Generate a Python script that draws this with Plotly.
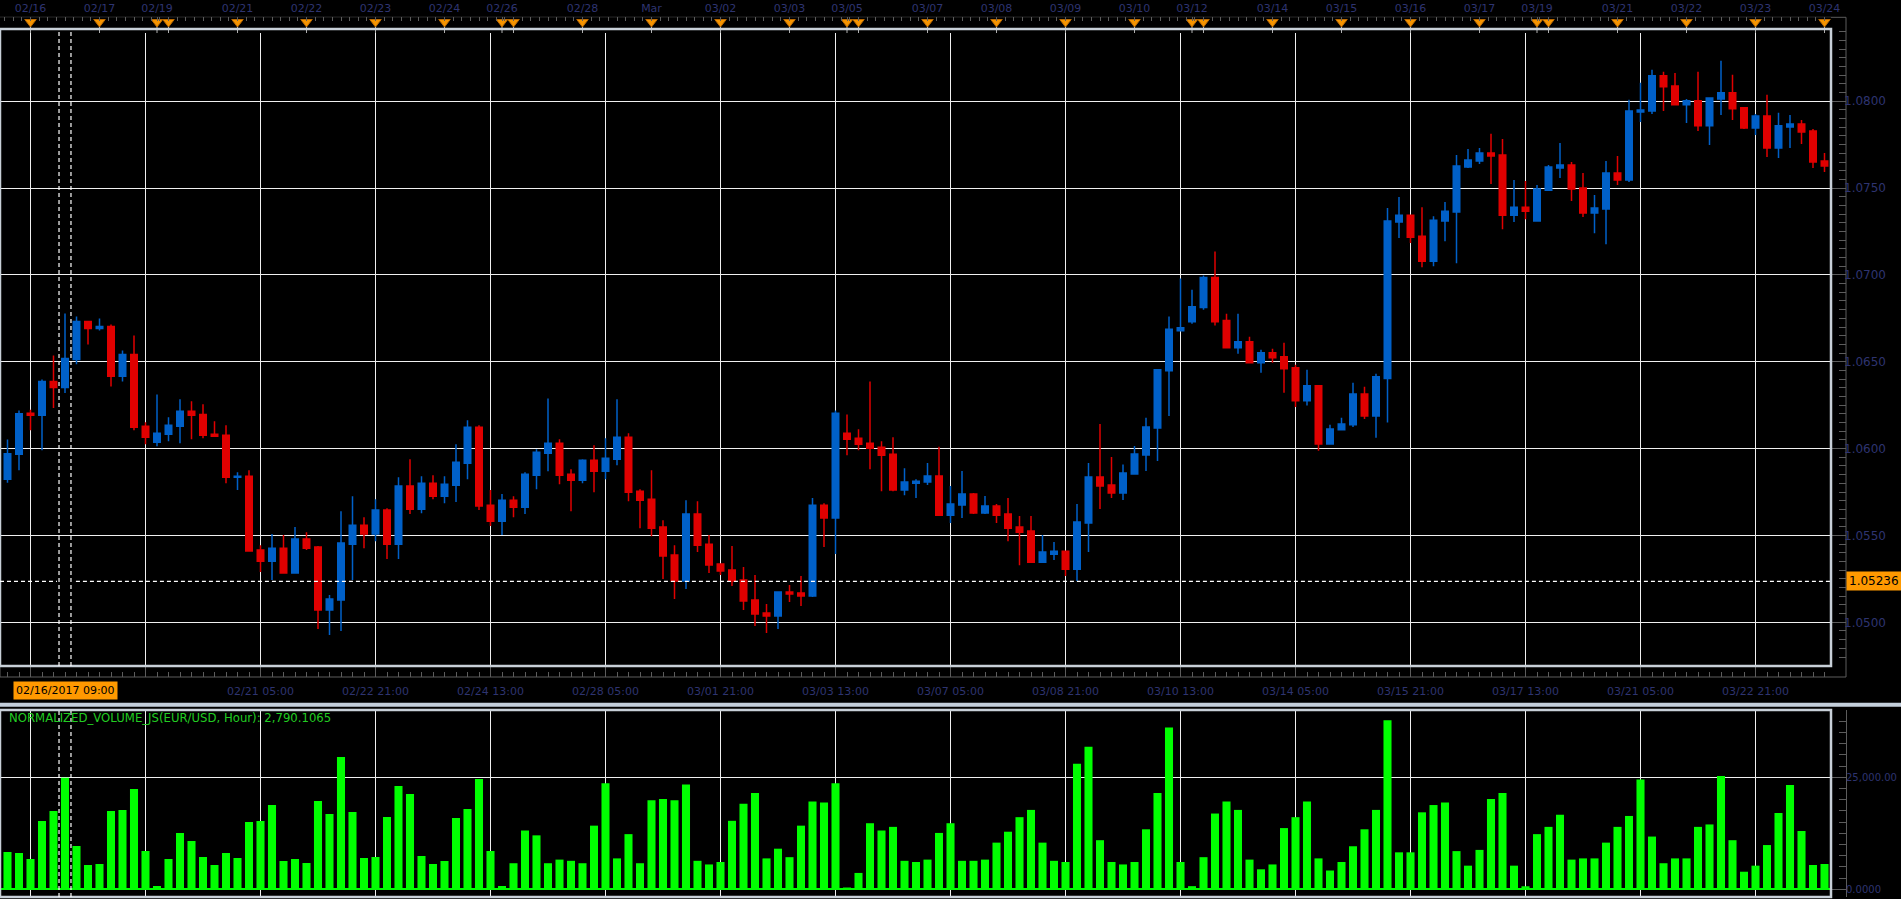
import plotly.graph_objects as go

W, H = 1901, 899

# ---------------- data ----------------
candle_idx = list(range(159))

open_ = [1.05824, 1.05967, 1.06203, 1.06192, 1.06387, 1.06352, 1.06513, 1.06732, 1.06692, 1.06703,
         1.06416, 1.06542, 1.06128, 1.06036, 1.06082, 1.06128, 1.06215, 1.06197, 1.06082, 1.06077,
         1.05835, 1.05841, 1.05416, 1.05352, 1.05427, 1.05284, 1.05479, 1.05433, 1.05071, 1.05128,
         1.05450, 1.05559, 1.05508, 1.05646, 1.05450, 1.05784, 1.05651, 1.05801, 1.05726, 1.05789,
         1.05916, 1.06123, 1.05674, 1.05582, 1.05703, 1.05663, 1.05847, 1.05973, 1.06031, 1.05852,
         1.05818, 1.05933, 1.05870, 1.05939, 1.06065, 1.05755, 1.05709, 1.05548, 1.05387, 1.05238,
         1.05623, 1.05450, 1.05335, 1.05301, 1.05243, 1.05128, 1.05054, 1.05036, 1.05174, 1.05169,
         1.05151, 1.05674, 1.05600, 1.06088, 1.06059, 1.06031, 1.06008, 1.05967, 1.05761, 1.05801,
         1.05808, 1.05842, 1.05617, 1.05675, 1.05738, 1.05629, 1.05669, 1.05623, 1.05548, 1.05525,
         1.05346, 1.05392, 1.05409, 1.05306, 1.05571, 1.05837, 1.05790, 1.05744, 1.05854, 1.05963,
         1.06119, 1.06448, 1.06679, 1.06731, 1.06812, 1.06985, 1.06737, 1.06581, 1.06615, 1.06494,
         1.06552, 1.06529, 1.06465, 1.06275, 1.06362, 1.06027, 1.06108, 1.06137, 1.06315, 1.06188,
         1.06404, 1.07304, 1.07344, 1.07223, 1.07079, 1.07310, 1.07362, 1.07621, 1.07656, 1.07702,
         1.07690, 1.07344, 1.07390, 1.07310, 1.07488, 1.07615, 1.07633, 1.07500, 1.07356, 1.07379,
         1.07587, 1.07546, 1.07938, 1.07944, 1.08146, 1.08088, 1.07979, 1.08002, 1.07858, 1.08013,
         1.08048, 1.07962, 1.07846, 1.07915, 1.07731, 1.07852, 1.07869, 1.07829, 1.07656]

high = [1.06052, 1.06220, 1.06224, 1.06398, 1.06536, 1.06778, 1.06761, 1.06732, 1.06749, 1.06715,
        1.06565, 1.06651, 1.06151, 1.06312, 1.06180, 1.06284, 1.06272, 1.06255, 1.06157, 1.06134,
        1.05864, 1.05875, 1.05444, 1.05508, 1.05502, 1.05548, 1.05519, 1.05439, 1.05157, 1.05640,
        1.05726, 1.05605, 1.05709, 1.05657, 1.05835, 1.05939, 1.05841, 1.05847, 1.05841, 1.06025,
        1.06163, 1.06134, 1.05761, 1.05738, 1.05726, 1.05864, 1.05996, 1.06289, 1.06054, 1.05881,
        1.05939, 1.06019, 1.06059, 1.06284, 1.06088, 1.05766, 1.05875, 1.05588, 1.05444, 1.05703,
        1.05697, 1.05502, 1.05335, 1.05439, 1.05318, 1.05272, 1.05105, 1.05174, 1.05215, 1.05266,
        1.05715, 1.05686, 1.06220, 1.06197, 1.06111, 1.06387, 1.06042, 1.06065, 1.05887, 1.05824,
        1.05917, 1.06010, 1.05785, 1.05871, 1.05744, 1.05727, 1.05681, 1.05715, 1.05612, 1.05612,
        1.05502, 1.05462, 1.05409, 1.05681, 1.05917, 1.06142, 1.05952, 1.05908, 1.06015, 1.06177,
        1.06454, 1.06760, 1.06979, 1.06915, 1.06996, 1.07135, 1.06777, 1.06777, 1.06644, 1.06569,
        1.06575, 1.06610, 1.06483, 1.06454, 1.06362, 1.06137, 1.06177, 1.06379, 1.06356, 1.06431,
        1.07385, 1.07448, 1.07344, 1.07390, 1.07338, 1.07419, 1.07690, 1.07725, 1.07731, 1.07812,
        1.07783, 1.07546, 1.07540, 1.07517, 1.07633, 1.07760, 1.07650, 1.07587, 1.07460, 1.07656,
        1.07685, 1.08008, 1.08106, 1.08181, 1.08169, 1.08163, 1.08013, 1.08169, 1.08019, 1.08233,
        1.08152, 1.07962, 1.07927, 1.08037, 1.07933, 1.07921, 1.07892, 1.07840, 1.07702]

low = [1.05803, 1.05875, 1.06105, 1.05990, 1.06234, 1.06320, 1.06485, 1.06600, 1.06680, 1.06358,
       1.06387, 1.06105, 1.06025, 1.06013, 1.06042, 1.06031, 1.06054, 1.06059, 1.06071, 1.05801,
       1.05761, 1.05410, 1.05289, 1.05243, 1.05284, 1.05284, 1.05416, 1.04962, 1.04927, 1.04950,
       1.05243, 1.05427, 1.05467, 1.05364, 1.05364, 1.05623, 1.05628, 1.05709, 1.05686, 1.05692,
       1.05824, 1.05646, 1.05554, 1.05502, 1.05605, 1.05623, 1.05766, 1.05870, 1.05795, 1.05640,
       1.05801, 1.05749, 1.05824, 1.05904, 1.05697, 1.05542, 1.05496, 1.05249, 1.05134, 1.05192,
       1.05404, 1.05284, 1.05272, 1.05209, 1.05071, 1.04979, 1.04939, 1.04962, 1.05117, 1.05094,
       1.05146, 1.05433, 1.05393, 1.05962, 1.05990, 1.05881, 1.05755, 1.05755, 1.05732, 1.05715,
       1.05790, 1.05617, 1.05571, 1.05600, 1.05623, 1.05623, 1.05571, 1.05467, 1.05329, 1.05346,
       1.05346, 1.05358, 1.05267, 1.05238, 1.05404, 1.05652, 1.05715, 1.05704, 1.05854, 1.05871,
       1.05929, 1.06188, 1.06679, 1.06719, 1.06800, 1.06708, 1.06581, 1.06546, 1.06494, 1.06437,
       1.06494, 1.06321, 1.06240, 1.06248, 1.05987, 1.06027, 1.06108, 1.06125, 1.06171, 1.06062,
       1.06150, 1.07212, 1.07183, 1.07044, 1.07050, 1.07194, 1.07067, 1.07615, 1.07638, 1.07523,
       1.07263, 1.07304, 1.07321, 1.07310, 1.07488, 1.07558, 1.07425, 1.07333, 1.07240, 1.07177,
       1.07517, 1.07535, 1.07881, 1.07927, 1.07944, 1.07979, 1.07875, 1.07829, 1.07748, 1.07921,
       1.07892, 1.07840, 1.07806, 1.07679, 1.07673, 1.07731, 1.07754, 1.07615, 1.07592]

close = [1.05971, 1.06201, 1.06192, 1.06387, 1.06352, 1.06519, 1.06732, 1.06692, 1.06703, 1.06416,
         1.06542, 1.06123, 1.06065, 1.06088, 1.06134, 1.06215, 1.06192, 1.06077, 1.06071, 1.05835,
         1.05841, 1.05410, 1.05352, 1.05427, 1.05284, 1.05479, 1.05427, 1.05071, 1.05134, 1.05456,
         1.05559, 1.05508, 1.05646, 1.05450, 1.05784, 1.05651, 1.05801, 1.05726, 1.05795, 1.05921,
         1.06123, 1.05669, 1.05582, 1.05703, 1.05663, 1.05852, 1.05979, 1.06031, 1.05847, 1.05818,
         1.05933, 1.05870, 1.05944, 1.06065, 1.05749, 1.05703, 1.05542, 1.05381, 1.05238, 1.05623,
         1.05444, 1.05330, 1.05295, 1.05238, 1.05123, 1.05048, 1.05036, 1.05174, 1.05163, 1.05151,
         1.05674, 1.05600, 1.06203, 1.06054, 1.06025, 1.06002, 1.05962, 1.05761, 1.05807, 1.05812,
         1.05842, 1.05617, 1.05681, 1.05738, 1.05629, 1.05669, 1.05617, 1.05542, 1.05519, 1.05346,
         1.05404, 1.05409, 1.05306, 1.05577, 1.05837, 1.05785, 1.05744, 1.05860, 1.05969, 1.06125,
         1.06454, 1.06687, 1.06696, 1.06817, 1.06985, 1.06731, 1.06581, 1.06615, 1.06494, 1.06552,
         1.06523, 1.06460, 1.06275, 1.06362, 1.06027, 1.06113, 1.06142, 1.06315, 1.06188, 1.06413,
         1.07310, 1.07344, 1.07217, 1.07079, 1.07315, 1.07367, 1.07627, 1.07662, 1.07702, 1.07685,
         1.07344, 1.07390, 1.07367, 1.07494, 1.07621, 1.07633, 1.07494, 1.07356, 1.07385, 1.07587,
         1.07546, 1.07944, 1.07950, 1.08146, 1.08083, 1.07979, 1.08002, 1.07858, 1.08019, 1.08048,
         1.07956, 1.07846, 1.07915, 1.07731, 1.07858, 1.07869, 1.07823, 1.07650, 1.07627]

volume = [8333, 8110, 6770, 15252, 17484, 24924, 9672, 5431, 5654, 17484,
          17707, 22394, 8556, 744, 6770, 12574, 10788, 7217, 5431, 8110,
          6994, 15029, 15252, 18823, 6324, 6770, 5878, 19716, 16814, 29537,
          17261, 6994, 7217, 16145, 23064, 21278, 7440, 5654, 6324, 15922,
          17930, 24626, 8556, 744, 5818, 13124, 12042, 5818, 6630, 6359,
          5818, 14207, 23678, 6900, 12312, 5818, 19889, 20160, 19889, 23407,
          6359, 5547, 6089, 15289, 19077, 21513, 6900, 9065, 7171, 14207,
          19619, 19348, 23678, 400, 3653, 14748, 13124, 13936, 6359, 6089,
          6630, 12583, 14748, 6359, 6359, 6630, 10418, 12854, 16101, 17724,
          10418, 6359, 6089, 28007, 31796, 10959, 6089, 5547, 6089, 13395,
          21513, 36125, 6089, 700, 7171, 16912, 19619, 17724, 6630, 4465,
          5547, 13665, 16101, 19619, 6900, 4194, 6089, 9606, 13395, 17724,
          37749, 8253, 8253, 17183, 18807, 19348, 8524, 5277, 8794, 20160,
          21513, 5277, 677, 12312, 13936, 16642, 6630, 6900, 6900, 10418,
          13936, 16371, 24489, 11771, 5818, 6900, 6900, 13936, 14477, 25301,
          10959, 3924, 5277, 9877, 17038, 23287, 13020, 5431, 5654]

grid_ticks = [2, 12, 22, 32, 42, 52, 62, 72, 82, 92, 102, 112, 122, 132, 142, 152]
bottom_labels = ["02/15 21:00", "", "02/21 05:00", "02/22 21:00", "02/24 13:00", "02/28 05:00",
                 "03/01 21:00", "03/03 13:00", "03/07 05:00", "03/08 21:00", "03/10 13:00",
                 "03/14 05:00", "03/15 21:00", "03/17 13:00", "03/21 05:00", "03/22 21:00"]

top_ticks = [2, 8, 13, 20, 26, 32, 38, 43, 50, 56, 62, 68, 73, 80, 86, 92, 98, 103, 110,
             116, 122, 128, 133, 140, 146, 152, 158]
top_labels = ["02/16", "02/17", "02/19", "02/21", "02/22", "02/23", "02/24", "02/26", "02/28",
              "Mar", "03/02", "03/03", "03/05", "03/07", "03/08", "03/09", "03/10", "03/12",
              "03/14", "03/15", "03/16", "03/17", "03/19", "03/21", "03/22", "03/23", "03/24"]
event_marks = [2, 8, 13, 14, 20, 26, 32, 38, 43, 44, 50, 56, 62, 68, 73, 74, 80, 86, 92, 98,
               103, 104, 110, 116, 122, 128, 133, 134, 140, 146, 152, 158]

price_ticks = [1.05, 1.055, 1.06, 1.065, 1.07, 1.075, 1.08]
vol_ticks = [0, 25000]
vol_tick_labels = ["0.0000", "25,000.00"]

cursor_index = 5
cursor_price = 1.05236
cursor_price_label = "1.05236"
cursor_time_label = "02/16/2017 09:00"
indicator_label = "NORMALIZED_VOLUME_JS(EUR/USD, Hour): 2,790.1065"

# ---------------- styling helpers ----------------
def fx(px):
    return px / W

def fy(py):
    return 1 - py / H

UP = "#0060c8"
DOWN = "#e00000"
GRID = "#f0f0f0"
AXC = "#5c5c5c"
LBL = "#2e3470"
FRAME = "#c8d0d8"
ORANGE = "#ff9900"
FONT = "DejaVu Sans"

XR = [-0.652, 158.565]
XDOM = [0, fx(1831)]

fig = go.Figure()

fig.add_trace(go.Candlestick(
    x=candle_idx, open=open_, high=high, low=low, close=close,
    increasing=dict(line=dict(color=UP, width=1.5), fillcolor=UP),
    decreasing=dict(line=dict(color=DOWN, width=1.5), fillcolor=DOWN),
    whiskerwidth=0, hoverinfo="skip", xaxis="x", yaxis="y"))

fig.add_trace(go.Bar(
    x=candle_idx, y=volume, width=0.7, marker=dict(color="#00ff00", line=dict(width=0)),
    hoverinfo="skip", xaxis="x4", yaxis="y2"))

# top event markers (stems + triangles)
stem_x, stem_y = [], []
for m in event_marks:
    stem_x += [m, m, None]
    stem_y += [0.0, 0.7, None]
fig.add_trace(go.Scatter(x=stem_x, y=stem_y, mode="lines",
                         line=dict(color="#b0b0b0", width=1),
                         hoverinfo="skip", xaxis="x2", yaxis="y3"))
fig.add_trace(go.Scatter(x=event_marks, y=[0.7] * len(event_marks), mode="markers",
                         marker=dict(symbol="triangle-down", size=10, color="#f59400",
                                     line=dict(color="#b86800", width=1)),
                         hoverinfo="skip", xaxis="x2", yaxis="y3"))

# carrier for the bottom time axis strip
fig.add_trace(go.Scatter(x=[grid_ticks[0]], y=[0.5], mode="markers",
                         marker=dict(opacity=0), hoverinfo="skip", xaxis="x3", yaxis="y4"))

tickfont = dict(family=FONT, size=11, color=LBL)
rfont = dict(family=FONT, size=12, color=LBL)
vfont = dict(family=FONT, size=10, color=LBL)

layout = dict(
    width=W, height=H, margin=dict(l=0, r=0, t=0, b=0, autoexpand=False), autosize=False,
    paper_bgcolor="black", plot_bgcolor="black",
    showlegend=False, hovermode=False,
    boxgap=0.435, boxgroupgap=0,
    font=dict(family=FONT, size=11, color=LBL),
    xaxis=dict(domain=XDOM, range=XR, anchor="y", tickmode="array", tickvals=grid_ticks,
               showticklabels=False, ticks="", showgrid=True, gridcolor=GRID, gridwidth=1,
               zeroline=False, showline=False, rangeslider=dict(visible=False),
               automargin=False),
    yaxis=dict(domain=[fy(666), fy(29)], range=[1.047484, 1.084157], anchor="free",
               position=fx(1846), side="right", tickmode="array", tickvals=price_ticks,
               tickformat=".4f", ticks="inside", ticklen=15, tickwidth=1, tickcolor=AXC,
               showgrid=True, gridcolor=GRID, gridwidth=1, zeroline=False, showline=False,
               tickfont=rfont, automargin=False, ticklabelstandoff=-3,
               minor=dict(tickmode="linear", tick0=1.05, dtick=0.0005, ticks="inside",
                          ticklen=7, tickcolor=AXC, showgrid=False)),
    xaxis2=dict(domain=XDOM, range=XR, anchor="y3", side="top", tickmode="array",
                tickvals=top_ticks, ticktext=top_labels, ticks="inside", ticklen=4,
                tickcolor=AXC, showgrid=False, zeroline=False, showline=False,
                tickfont=tickfont, automargin=False, ticklabelstandoff=2,
                minor=dict(tickmode="linear", tick0=2, dtick=0.75, ticks="inside",
                           ticklen=4, tickcolor=AXC, showgrid=False)),
    yaxis3=dict(domain=[fy(33), fy(17.3)], range=[0, 1], anchor="x2", visible=False,
                automargin=False),
    xaxis3=dict(domain=XDOM, range=XR, anchor="y4", side="bottom", tickmode="array",
                tickvals=grid_ticks, ticktext=bottom_labels, ticks="inside", ticklen=11,
                tickcolor=AXC, showgrid=False, zeroline=False, showline=False,
                tickfont=tickfont, ticklabelstandoff=6, automargin=False,
                minor=dict(tickmode="linear", tick0=2, dtick=1, ticks="inside",
                           ticklen=5, tickcolor=AXC, showgrid=False)),
    yaxis4=dict(domain=[fy(677), fy(666)], range=[0, 1], anchor="x3", visible=False,
                automargin=False),
    xaxis4=dict(domain=XDOM, range=XR, anchor="y2", tickmode="array", tickvals=grid_ticks,
                showticklabels=False, ticks="", showgrid=True, gridcolor=GRID, gridwidth=1,
                zeroline=False, showline=False, automargin=False),
    yaxis2=dict(domain=[fy(897), fy(710)], range=[-1719, 40022], anchor="free",
                position=fx(1846), side="right", tickmode="array", tickvals=vol_ticks,
                ticktext=vol_tick_labels, ticks="inside", ticklen=15, tickcolor=AXC,
                showgrid=True, gridcolor=GRID, gridwidth=1,
                zeroline=True, zerolinecolor="#00ff00", zerolinewidth=2,
                showline=True, linecolor=AXC, linewidth=1, tickfont=vfont,
                automargin=False, ticklabelstandoff=-3,
                minor=dict(tickmode="linear", tick0=0, dtick=2500, ticks="inside",
                           ticklen=7, tickcolor=AXC, showgrid=False)),
)
fig.update_layout(**layout)

shapes = []
# axis box around the price pane (top strip line, right axis line, bottom strip line)
shapes.append(dict(type="rect", xref="paper", yref="paper", x0=0, x1=fx(1846),
                   y0=fy(677), y1=fy(17.3), line=dict(color=AXC, width=1), layer="below"))
# separator band
shapes.append(dict(type="rect", xref="paper", yref="paper", x0=0, x1=1,
                   y0=fy(706.7), y1=fy(702.7), fillcolor="#c4cfdb", line=dict(width=0)))
# frames
shapes.append(dict(type="rect", xref="paper", yref="paper", x0=0, x1=fx(1831),
                   y0=fy(666), y1=fy(29), line=dict(color=FRAME, width=2.5), layer="above"))
shapes.append(dict(type="rect", xref="paper", yref="paper", x0=0, x1=fx(1831),
                   y0=fy(897), y1=fy(710), line=dict(color=FRAME, width=2.5), layer="above"))
# crosshair cursor
dash = dict(color="white", width=1.2, dash="4px,3px")
for dx in (-0.52, 0.52):
    shapes.append(dict(type="line", xref="x", yref="y domain", x0=cursor_index + dx,
                       x1=cursor_index + dx, y0=0, y1=1, line=dash))
    shapes.append(dict(type="line", xref="x4", yref="y2 domain", x0=cursor_index + dx,
                       x1=cursor_index + dx, y0=0, y1=1, line=dash))
shapes.append(dict(type="line", xref="x", yref="y", x0=XR[0], x1=cursor_index - 0.7,
                   y0=cursor_price, y1=cursor_price, line=dash))
shapes.append(dict(type="line", xref="x", yref="y", x0=cursor_index + 0.95, x1=XR[1],
                   y0=cursor_price, y1=cursor_price, line=dash))
fig.update_layout(shapes=shapes)

annotations = [
    dict(xref="x3", yref="paper", x=cursor_index, y=fy(690), text=cursor_time_label,
         showarrow=False, bgcolor=ORANGE, borderpad=2, xanchor="center", yanchor="middle",
         font=dict(family=FONT, size=11, color="black")),
    dict(xref="paper", yref="y", x=fx(1846), y=cursor_price, text=cursor_price_label,
         showarrow=False, bgcolor=ORANGE, borderpad=2, xanchor="left", yanchor="middle",
         font=dict(family=FONT, size=12, color="black")),
    dict(xref="paper", yref="paper", x=fx(7), y=fy(717.7), text=indicator_label,
         showarrow=False, xanchor="left", yanchor="middle",
         font=dict(family=FONT, size=11.7, color="#22cc22")),
]
fig.update_layout(annotations=annotations)

fig.write_html("out.html")
